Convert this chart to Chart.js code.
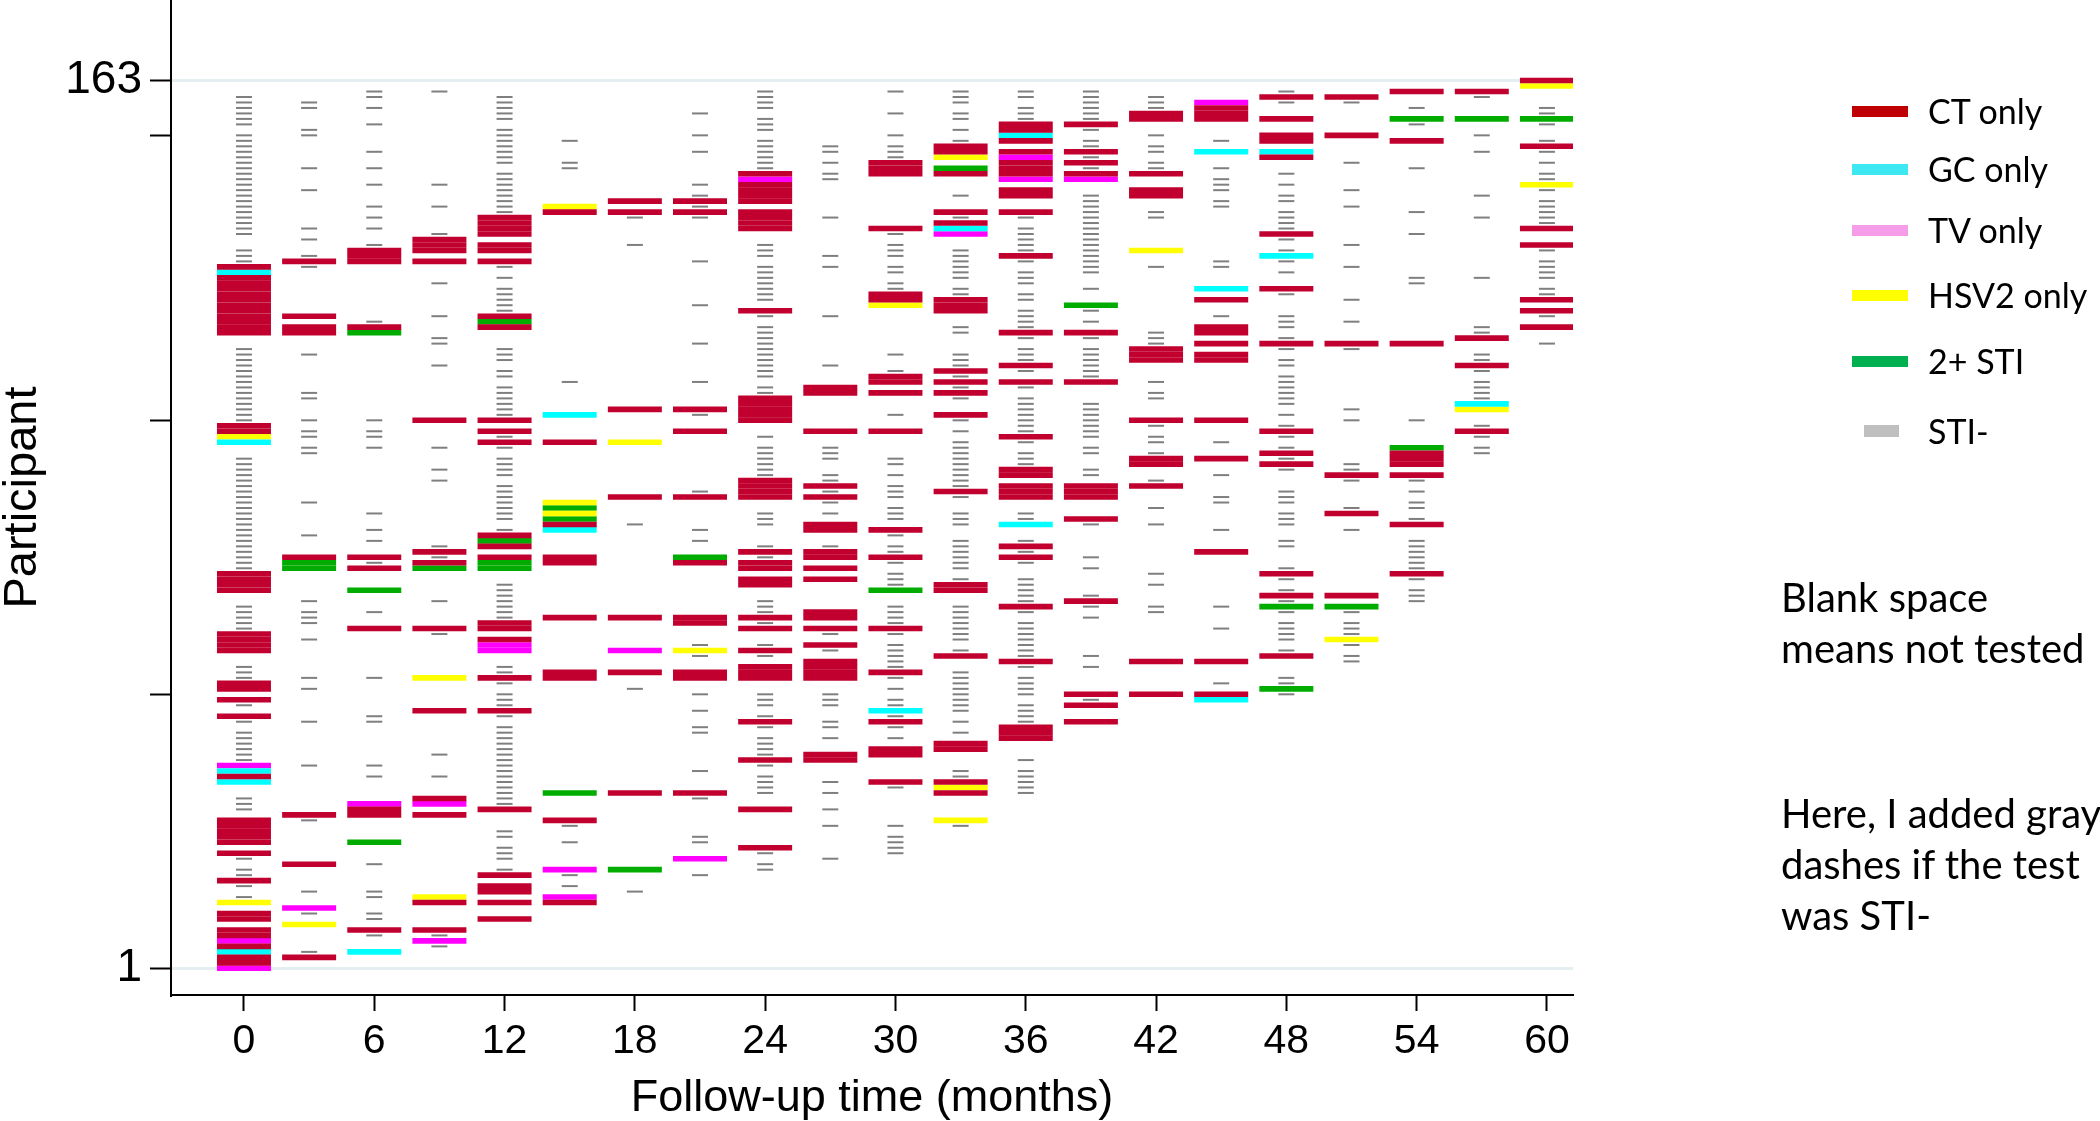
<!DOCTYPE html>
<html>
<head>
<meta charset="utf-8">
<script src="https://cdn.jsdelivr.net/npm/chart.js@4.4.0/dist/chart.umd.min.js"></script>
<style>
  body { margin: 0; background: #fff; }
  #wrap { position: relative; width: 2100px; height: 1121px; }
  #chart { position: absolute; left: 0; top: 0; }
  .key { position: absolute; font-family: Lato, "Open Sans", sans-serif; font-size: 34px; color: #000; white-space: nowrap; line-height: 40px; }
  .note { position: absolute; left: 1781px; font-family: Lato, "Open Sans", sans-serif; font-size: 40px; color: #000; line-height: 51px; white-space: nowrap; }
  .sw { position: absolute; }
</style>
</head>
<body>
<div id="wrap">
  <canvas id="chart" width="2100" height="1121"></canvas>
  <div id="legend"></div>
  <div class="note" style="top:572px">Blank space<br>means not tested</div>
  <div class="note" style="top:788px">Here, I added gray<br>dashes if the test<br>was STI-</div>
</div>
<script>
'use strict';

// visit month of each column of marks
let months = [0, 3, 6, 9, 12, 15, 18, 21, 24, 27, 30, 33, 36, 39, 42, 45, 48, 51, 54, 57, 60];

// test result per participant at each visit, written as runs "from-to code"
// C = CT only, G = GC only, T = TV only, H = HSV2 only, M = 2+ STI, N = STI-
let visitRuns = [
    '160-155N 153-135N 132-130N 129C 128G 127-117C 114-101N 100-99C 98H 97G 94-74N 73-70C 67-63N 62-59C 56-54N 53-52C 50C 49N 47C 46N 44-39N 38T 37G 36C 35G 32-30N 28-24C 22C 21N 19-18N 17C 16N 14N 13H 11-10C 8-7C 6T 5C 4G 3-2C 1T',
    '159-158N 154-153N 147N 143N 136N 134N 131N 130C 129N 120C 118-117C 113N 106-105N 101N 99-98N 96-95N 86N 80N 76C 75-74M 68N 66-64N 61N 54N 52N 46N 38N 29C 28N 20C 15N 12T 11N 9H 4N 3C',
    '161-160N 158N 155N 150N 147N 144N 140N 138N 136N 133N 132-130C 119N 118C 117M 101N 99-98N 96N 84N 81N 79N 76C 75N 74C 70M 66N 63C 54N 47-46N 38N 36N 31T 30-29C 24M 20N 15-14N 11-10N 8C 7N 4G',
    '161N 144N 140N 135N 134-132C 130C 126N 120N 116-115N 111N 101C 96N 92N 90N 78N 77C 76N 75C 74M 68N 63C 62N 54H 48C 40N 36N 32C 31T 29C 14H 13C 8C 7N 6T 5N',
    '160-156N 154-148N 146-139N 138-135C 133-132C 130C 129N 127N 125-121N 120C 119M 118C 114-112N 110-109N 107-102N 101C 99C 98N 97C 96N 94-91N 89-83N 81N 80C 79M 78C 76C 75-74M 71-65N 64-63C 61C 60-59T 56-55N 54C 53N 51-49N 48C 47N 45-31N 30C 26-25N 23-21N 19N 18C 16-15C 13C 10C',
    '152N 148-147N 140H 139C 108N 102G 97C 86H 85M 84H 83M 82C 81G 76-75C 65C 55-54C 33M 28C 27N 24N 19T 18N 16N 14T 13C',
    '141C 139C 138N 133N 103C 97H 87C 82N 65C 59T 55C 52N 33C 19M 15N',
    '157N 153N 150N 144N 142N 141C 140N 139C 138N 130N 122N 115N 108N 103C 102N 99C 88N 87C 81N 79N 76M 75C 65-64C 60N 59H 58N 55-54C 51N 48N 45-44N 37N 33C 32N 25-24N 21T 18N',
    '161-158N 156-154N 152-147N 146C 145T 144-141C 139-136C 133-131N 129-123N 121C 120N 118-109N 107-106N 105-101C 98N 96-91N 90-87C 84-82N 78N 77C 76N 75-74C 72-71C 68-66N 65C 64N 63C 60N 59C 58N 56-54C 51-49N 47N 46C 45N 43-40N 39C 38N 36-33N 30C 23C 22N 20-19N',
    '151-150N 148N 146-145N 138N 131N 129N 120N 111N 107-106C 99C 96-94N 91-90N 89C 88N 87C 86N 84N 82-81C 78N 77-76C 74C 72C 66-65C 63C 62N 60C 59N 57-54C 51-49N 46-45N 43N 40-39C 35N 33N 30N 27N 21N',
    '161N 157N 153N 151-149N 148-146C 136C 135N 133-131N 129-128N 126-125N 124-123C 122H 113N 110N 109-108C 106C 102N 99C 94-93N 91N 89-87N 85-83N 81C 80N 78-77N 76C 75N 73-71N 70M 67-64N 63C 62N 60-56N 55C 54N 52N 50-49N 48G 47N 46C 45N 43N 41-40C 35C 34N 27N 25-22N',
    '161-159N 157-156N 154N 152N 151-150C 149H 147M 146C 142N 139C 138N 137C 136G 135T 132-127N 125-124N 123-121C 118-117N 113-111N 110C 109N 108C 107N 106C 105N 102C 101N 99N 97-89N 88C 87N 84-82N 79-74N 72N 71-70C 67-61N 59N 58C 55-48N 46N 44N 42-41C 37-36N 35C 34H 33C 28H 27N',
    '161-160N 158-156N 155-154C 153G 152C 150C 149T 148-146C 145T 143-142C 139C 138N 136-132N 131C 130N 128-126N 124-123N 121-118N 117C 116N 114-112N 111C 110N 108C 107N 105-99N 98C 97N 95-93N 92-91C 89-87C 84-83N 82G 79N 78C 77N 76C 75N 72-68N 67C 66N 64-58N 57C 56N 54-51N 49-46N 45-43C 39N 37-33N',
    '161-156N 155C 154N 152-151N 150C 149N 148C 147N 146C 145T 142-128N 125N 122M 121N 119N 117C 116N 114-109N 108C 104-98N 96-95N 92-91N 89-87C 83C 82N 76N 74N 69N 68C 67N 65N 58N 56N 51C 50N 49C 46C',
    '160-158N 157-156C 153N 151-150N 148-147N 146C 143-142C 139-138N 132H 129N 117-115N 114-112C 108N 106-105N 101C 100N 98-97N 95N 94-93C 90N 89C 85N 82N 73N 71N 67-66N 57C 51C',
    '159T 158-156C 152N 150G 147N 145-143N 141-140N 130-129N 125G 123C 120N 118-117C 115C 113-112C 101C 97N 94C 91N 87-86N 81N 77C 67N 63N 57C 53N 51C 50G',
    '161N 160C 159N 156C 153-152C 150G 149C 146N 144N 142-141N 139-136N 135C 134N 132N 131G 130N 128N 125C 124N 120-118N 116N 115C 114N 112-111N 109-104N 102N 100N 99C 98N 96N 95C 94N 93C 92N 88-86N 84-82N 79-78N 74N 73C 72N 70N 69C 68N 67M 66N 64-61N 59N 58C 54-53N 52M 51N',
    '160C 159N 153C 148N 143N 140N 133N 129N 123N 119N 115C 114N 103N 101N 93-92N 91C 90N 85N 84C 81N 69C 67M 66N 64-62N 61H 60N 58-57N',
    '161C 158N 156M 155N 152C 147N 139N 135N 127-126N 115C 101N 96M 95-93C 91C 90N 88N 86-85N 83N 82C 79-74N 73C 72N 70-68N',
    '161C 160N 156M 153N 150N 142N 138N 127N 118-117N 116C 113-112N 111C 110N 108-105N 104G 103H 100N 99C 98N 96-95N',
    '163C 162H 158-157N 156M 155N 152N 151C 150N 148N 146-145N 144H 143N 141-137N 136C 133C 132N 130-127N 125-124N 123C 121C 120N 118C 115N'
];

let statusCodes = ['C', 'G', 'T', 'H', 'M', 'N'];
let statusLabels = ['CT only', 'GC only', 'TV only', 'HSV2 only', '2+ STI', 'STI-'];
let markColors = ['#c1002f', '#00ffff', '#ff00ff', '#ffff00', '#00ac00', '#7f7f7f'];
let keyColors = ['#c00000', '#3de8f2', '#f59de9', '#ffff00', '#00b050', '#bfbfbf'];

let xTicks = [0, 6, 12, 18, 24, 30, 36, 42, 48, 54, 60];
let yTicks = [1, 51, 101, 153, 163];
let yLabelled = [1, 163];

// turn the runs into one point per tested visit
let pointsByStatus = {};
statusCodes.forEach(function (c) { pointsByStatus[c] = []; });
months.forEach(function (m, i) {
    visitRuns[i].split(' ').forEach(function (tok) {
        let r = tok.match(/^(\d+)(?:-(\d+))?([A-Z])$/);
        let a = +r[1];
        let b = r[2] ? +r[2] : a;
        for (let p = Math.min(a, b); p <= Math.max(a, b); p++) {
            pointsByStatus[r[3]].push({ x: m, y: p });
        }
    });
});

let fontFamily = '"Liberation Sans", Arial, sans-serif';

let datasets = statusCodes.map(function (c, i) {
    let negative = c === 'N';
    return {
        label: statusLabels[i],
        data: pointsByStatus[c],
        showLine: false,
        pointStyle: 'line',
        pointRadius: negative ? 8 : 27,
        pointHoverRadius: negative ? 8 : 27,
        pointBorderWidth: negative ? 2 : 5.6,
        pointHoverBorderWidth: negative ? 2 : 5.6,
        pointBorderColor: markColors[i],
        pointBackgroundColor: markColors[i],
        order: negative ? 1 : 0
    };
});

let ctx = document.getElementById('chart').getContext('2d');
new Chart(ctx, {
    type: 'scatter',
    data: { datasets: datasets },
    options: {
        responsive: false,
        animation: false,
        devicePixelRatio: 1,
        layout: { autoPadding: false, padding: { left: 0, top: 0, right: 527, bottom: 0 } },
        plugins: { legend: { display: false }, tooltip: { enabled: false } },
        scales: {
            x: {
                type: 'linear',
                min: -3.36,
                max: 61.2,
                afterBuildTicks: function (s) { s.ticks = xTicks.map(function (v) { return { value: v }; }); },
                afterFit: function (s) { s.height = 126; s.paddingLeft = 0; s.paddingRight = 0; },
                grid: { drawOnChartArea: false, drawTicks: true, tickLength: 16, tickColor: '#000', tickWidth: 2 },
                border: { display: true, color: '#000', width: 2 },
                ticks: { font: { family: fontFamily, size: 41 }, color: '#000', padding: 6, maxRotation: 0, autoSkip: false },
                title: { display: true, text: 'Follow-up time (months)', color: '#000', padding: 0,
                    font: { family: fontFamily, size: 45, lineHeight: 1 } }
            },
            y: {
                type: 'linear',
                min: -3.87,
                max: 177.7,
                afterBuildTicks: function (s) { s.ticks = yTicks.map(function (v) { return { value: v }; }); },
                afterFit: function (s) { s.width = 171; s.paddingTop = 0; s.paddingBottom = 0; },
                grid: {
                    color: function (c) {
                        return c.tick && yLabelled.includes(c.tick.value) ? '#e5eef0' : 'rgba(0,0,0,0)';
                    },
                    lineWidth: 3,
                    drawTicks: true,
                    tickLength: 21,
                    tickColor: '#000',
                    tickWidth: 2
                },
                border: { display: true, color: '#000', width: 2 },
                ticks: {
                    font: { family: fontFamily, size: 46 }, color: '#000', padding: 8, autoSkip: false,
                    callback: function (v) { return yLabelled.includes(v) ? String(v) : ''; }
                },
                title: { display: true, text: 'Participant', color: '#000', padding: 0,
                    font: { family: fontFamily, size: 47, lineHeight: 1 } }
            }
        }
    }
});

// key on the right
let keyRows = [111, 169, 230, 295, 361, 431];
let legendEl = document.getElementById('legend');
statusLabels.forEach(function (label, i) {
    let sw = document.createElement('div');
    sw.className = 'sw';
    let small = statusCodes[i] === 'N';
    sw.style.left = (small ? 1864 : 1852) + 'px';
    sw.style.width = (small ? 35 : 56) + 'px';
    sw.style.height = (small ? 12 : 11) + 'px';
    sw.style.top = (keyRows[i] - (small ? 6 : 5.5)) + 'px';
    sw.style.background = keyColors[i];
    legendEl.appendChild(sw);
    let txt = document.createElement('div');
    txt.className = 'key';
    txt.style.left = '1928px';
    txt.style.top = (keyRows[i] - 20) + 'px';
    txt.textContent = label;
    legendEl.appendChild(txt);
});
</script>
</body>
</html>
